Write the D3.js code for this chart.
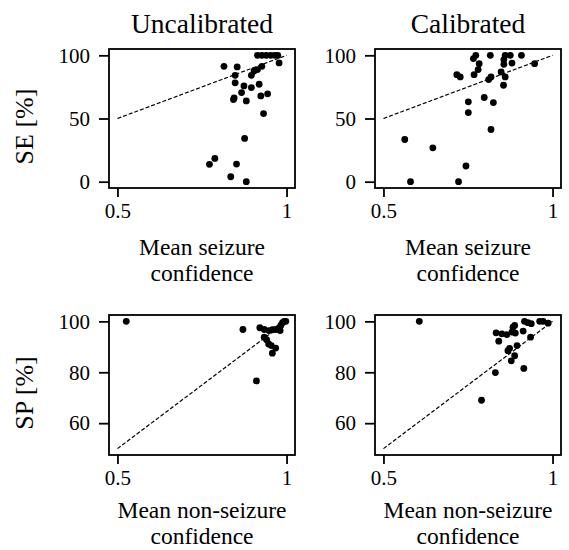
<!DOCTYPE html>
<html>
<head>
<meta charset="utf-8">
<script src="https://cdn.jsdelivr.net/npm/d3@7"></script>
</head>
<body style="margin:0">
<div id="chart"></div>
<script>
// column titles and axis labels
var colTitles = ["Uncalibrated", "Calibrated"];
var rowLabels = ["SE [%]", "SP [%]"];
var xLabels = [["Mean seizure", "confidence"], ["Mean non-seizure", "confidence"]];

// tick values
var xTicks = [0.5, 1];
var seTicks = [0, 50, 100];
var spTicks = [60, 80, 100];

// SE, uncalibrated: mean seizure confidence vs sensitivity
var seUncalConf = [0.914, 0.927, 0.940, 0.953, 0.965, 0.974, 0.978, 0.815, 0.854, 0.927,
                   0.914, 0.904, 0.896, 0.848, 0.848, 0.874, 0.919, 0.896, 0.867, 0.845,
                   0.843, 0.881, 0.924, 0.944, 0.932, 0.876, 0.788, 0.772, 0.852, 0.835, 0.881];
var seUncal = [100, 100, 100, 100, 100, 100, 94, 91.3, 90.8, 91.3,
               88.7, 87.6, 84.2, 84.2, 78.2, 75.8, 77.1, 74.5, 70.5, 66.3,
               65, 63.9, 67.9, 69.5, 53.9, 34.2, 18.4, 13.7, 13.9, 3.9, 0];

// SE, calibrated
var seCalConf = [0.773, 0.766, 0.816, 0.860, 0.875, 0.908, 0.856, 0.856, 0.880, 0.947,
                 0.783, 0.780, 0.848, 0.768, 0.860, 0.818, 0.811, 0.717, 0.727, 0.855,
                 0.798, 0.751, 0.825, 0.751, 0.818, 0.563, 0.646, 0.744, 0.580, 0.722];
var seCal = [100, 97.4, 100, 100, 100, 100, 96.6, 92.9, 93.9, 93.4,
             93.4, 88.7, 86.8, 84.7, 82.9, 82.9, 80.8, 84.7, 82.9, 76.3,
             66.6, 63.2, 62.6, 54.7, 41.3, 33.4, 26.8, 12.4, 0, 0];

// SP, uncalibrated: mean non-seizure confidence vs specificity
var spUncalConf = [0.526, 0.871, 0.921, 0.934, 0.948, 0.958, 0.968, 0.978, 0.983, 0.988,
                   0.993, 0.998, 0.981, 0.934, 0.941, 0.947, 0.955, 0.968, 0.958, 0.911];
var spUncal = [100, 96.8, 97.5, 96.8, 96.4, 96.7, 96.8, 97.4, 98.4, 99.5,
               100, 100, 96.4, 93.8, 92.8, 91.1, 90.5, 89.5, 87.5, 76.6];

// SP, calibrated
var spCalConf = [0.606, 0.833, 0.850, 0.865, 0.883, 0.888, 0.880, 0.890, 0.913, 0.917,
                 0.927, 0.937, 0.962, 0.972, 0.987, 0.935, 0.841, 0.895, 0.873, 0.868,
                 0.888, 0.878, 0.915, 0.831, 0.790];
var spCal = [100, 95.5, 95.1, 94.8, 97.7, 98.4, 95.8, 95.4, 96.2, 100,
             99.5, 99.1, 100, 100, 99.3, 93.8, 92.2, 90.5, 89.4, 88.5,
             86.5, 84.5, 81.5, 79.9, 69.0];

// reference line (confidence -> percent)
var refLine = [[0.5, 50], [1, 100]];

var FONT = "Liberation Serif";

var svgWidth = 569;
var svgHeight = 550;

var svg = d3.select("#chart")
  .append("svg")
  .attr("width", svgWidth)
  .attr("height", svgHeight)
  .attr("font-family", FONT);

var panelW = 186;
var colLeft = [109, 375];
var rowTop = [49, 315];
var rowH = [139, 140];
var xLabelY = [[67, 93], [63, 89]];

var panels = [
  {row: 0, col: 0, xs: seUncalConf, ys: seUncal},
  {row: 0, col: 1, xs: seCalConf, ys: seCal},
  {row: 1, col: 0, xs: spUncalConf, ys: spUncal},
  {row: 1, col: 1, xs: spCalConf, ys: spCal}
];

function label(sel, size) {
  return sel
    .attr("font-family", FONT)
    .attr("font-size", size)
    .attr("fill", "#000");
}

panels.forEach(function(p) {
  var h = rowH[p.row];
  var g = svg.append("g")
    .attr("transform", `translate(${colLeft[p.col]}, ${rowTop[p.row]})`);

  var x = d3.scaleLinear().domain([0.475, 1.025]).range([0, panelW]);
  var y = p.row === 0
    ? d3.scaleLinear().domain([-5, 105]).range([h, 0])
    : d3.scaleLinear().domain([47.5, 102.5]).range([h, 0]);
  var yTicks = p.row === 0 ? seTicks : spTicks;

  // reference line
  g.append("path")
    .datum(refLine)
    .attr("d", d3.line().x(d => x(d[0])).y(d => y(d[1])))
    .attr("fill", "none")
    .attr("stroke", "#000")
    .attr("stroke-width", 1.2)
    .attr("stroke-dasharray", "4,2");

  // points
  g.selectAll("circle")
    .data(p.xs.map((v, i) => [v, p.ys[i]]))
    .enter()
    .append("circle")
    .attr("cx", d => x(d[0]))
    .attr("cy", d => y(d[1]))
    .attr("r", 3.4)
    .attr("fill", "#000");

  // axes
  var bottomAxis = d3.axisBottom(x).tickValues(xTicks).tickFormat(d3.format("")).tickSize(9).tickPadding(6);
  var leftAxis = d3.axisLeft(y).tickValues(yTicks).tickSize(10).tickPadding(9);

  var bx = g.append("g")
    .attr("transform", `translate(0, ${h})`)
    .call(bottomAxis);
  var ly = g.append("g").call(leftAxis);

  [bx, ly].forEach(function(a) {
    a.attr("font-family", FONT).attr("font-size", 21);
    a.select(".domain").remove();
    a.selectAll(".tick line").attr("stroke", "#000").attr("stroke-width", 1.8);
    label(a.selectAll(".tick text"), 21);
  });

  // frame
  g.append("rect")
    .attr("width", panelW)
    .attr("height", h)
    .attr("fill", "none")
    .attr("stroke", "#000")
    .attr("stroke-width", 1.8);

  // x label, two lines
  xLabels[p.row].forEach(function(t, i) {
    label(g.append("text"), 23.5)
      .attr("x", panelW / 2)
      .attr("y", h + xLabelY[p.row][i])
      .attr("text-anchor", "middle")
      .text(t);
  });

  // column title
  if (p.row === 0) {
    label(g.append("text"), 27.5)
      .attr("x", panelW / 2)
      .attr("y", -16)
      .attr("text-anchor", "middle")
      .text(colTitles[p.col]);
  }

  // row label
  if (p.col === 0) {
    label(g.append("text"), 26)
      .attr("transform", `translate(-76, ${h / 2 + 8}) rotate(-90)`)
      .attr("text-anchor", "middle")
      .text(rowLabels[p.row]);
  }
});
</script>
</body>
</html>
